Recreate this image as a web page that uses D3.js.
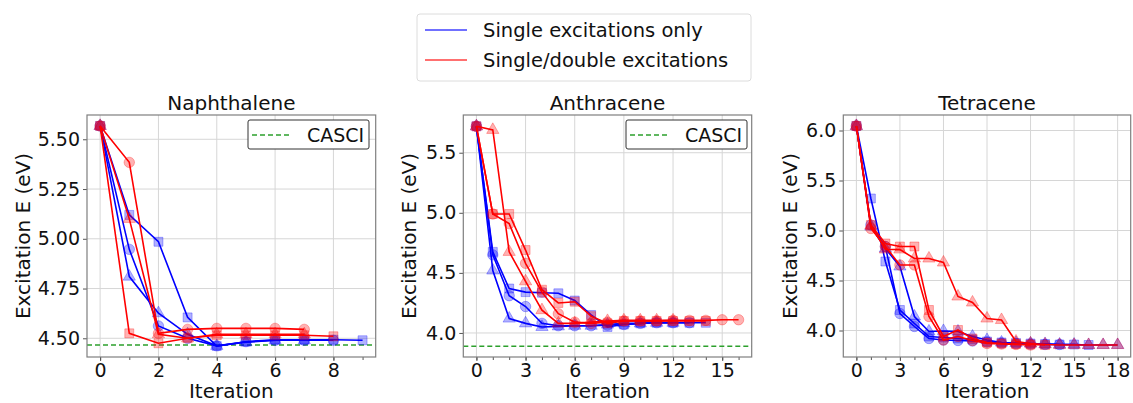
<!DOCTYPE html>
<html>
<head>
<meta charset="utf-8">
<script src="https://cdn.jsdelivr.net/npm/d3@7"></script>
<style>
  body { margin: 0; background: #fff; }
  text { font-family: "DejaVu Sans", sans-serif; fill: #111; }
</style>
</head>
<body>
<div id="chart"></div>
<script>
// ---- data ----
var titles = ["Naphthalene", "Anthracene", "Tetracene"];
var legendLabels = ["Single excitations only", "Single/double excitations"];
var markerShapes = ["square", "circle", "triangle"];

// Naphthalene
var naphSingle = [
  [5.567, 5.12, 4.985, 4.605, 4.461, 4.483, 4.493, 4.493, 4.493, 4.49],
  [5.567, 4.947, 4.562, 4.50, 4.462, 4.483, 4.49, 4.49, 4.49],
  [5.567, 4.81, 4.626, 4.52, 4.462, 4.48, 4.49, 4.49]
];
var naphDouble = [
  [5.567, 4.525, 4.475, 4.50, 4.515, 4.515, 4.515, 4.515, 4.51],
  [5.567, 5.384, 4.525, 4.545, 4.55, 4.55, 4.55, 4.545],
  [5.567, 5.10, 4.52, 4.50, 4.52, 4.52, 4.52, 4.52]
];
var naphCasci = 4.466;

// Anthracene
var anthSingle = [
  [5.72, 4.675, 4.37, 4.34, 4.335, 4.33, 4.27, 4.15, 4.05, 4.07, 4.08, 4.085, 4.085, 4.085, 4.085],
  [5.72, 4.65, 4.31, 4.22, 4.08, 4.06, 4.06, 4.06, 4.065, 4.07, 4.08, 4.085, 4.085, 4.085],
  [5.72, 4.52, 4.12, 4.08, 4.05, 4.055, 4.06, 4.06, 4.07, 4.08, 4.08, 4.085, 4.085]
];
var anthDouble = [
  [5.72, 4.99, 4.99, 4.69, 4.36, 4.25, 4.26, 4.14, 4.08, 4.1, 4.1, 4.1, 4.1, 4.1, 4.1],
  [5.72, 4.99, 4.91, 4.58, 4.34, 4.16, 4.09, 4.08, 4.09, 4.1, 4.1, 4.1, 4.105, 4.105, 4.105, 4.11, 4.11],
  [5.72, 5.69, 4.675, 4.43, 4.19, 4.08, 4.08, 4.09, 4.1, 4.105, 4.105, 4.105, 4.105]
];
var anthCasci = 3.89;

// Tetracene
var tetrSingle = [
  [6.045, 5.32, 4.69, 4.205, 4.07, 3.94, 3.93, 3.92, 3.91, 3.89, 3.88, 3.875, 3.87, 3.865, 3.86, 3.86, 3.855],
  [6.045, 5.055, 4.84, 4.17, 4.04, 3.92, 3.905, 3.90, 3.895, 3.885, 3.875, 3.87, 3.865, 3.86, 3.86],
  [6.045, 5.04, 4.82, 4.64, 4.14, 3.99, 3.995, 3.99, 3.94, 3.905, 3.88, 3.875, 3.87, 3.865, 3.86, 3.86, 3.855, 3.855, 3.855]
];
var tetrDouble = [
  [6.045, 5.055, 4.87, 4.84, 4.84, 4.205, 3.94, 4.005, 3.92, 3.88, 3.87, 3.865, 3.86, 3.855],
  [6.045, 5.02, 4.84, 4.655, 4.655, 4.14, 3.905, 3.94, 3.90, 3.87, 3.865, 3.86, 3.855],
  [6.045, 5.05, 4.81, 4.81, 4.72, 4.72, 4.68, 4.34, 4.28, 4.12, 4.105, 3.89, 3.87, 3.86, 3.855, 3.855, 3.855, 3.855, 3.855]
];

var naphXTicks = [0, 2, 4, 6, 8];
var naphYTicks = [4.50, 4.75, 5.00, 5.25, 5.50];
var anthXTicks = [0, 3, 6, 9, 12, 15];
var anthYTicks = [4.0, 4.5, 5.0, 5.5];
var tetrXTicks = [0, 3, 6, 9, 12, 15, 18];
var tetrYTicks = [4.0, 4.5, 5.0, 5.5, 6.0];

// ---- layout ----
var W = 1133, H = 403;
var plotTop = 115, plotBottom = 357;
var blue = "#0000ff", red = "#ff0000";

var panels = [
  { title: titles[0], left: 87, right: 375.7, xd: [-0.45, 9.45], yd: [4.406, 5.622],
    xt: naphXTicks, yt: naphYTicks, fmt: ".2f", xmax: 9, single: naphSingle, dbl: naphDouble,
    casci: naphCasci, labelX: 23 },
  { title: titles[1], left: 463.3, right: 751.7, xd: [-0.8, 16.8], yd: [3.80, 5.814],
    xt: anthXTicks, yt: anthYTicks, fmt: ".1f", xmax: 16, single: anthSingle, dbl: anthDouble,
    casci: anthCasci, labelX: 409 },
  { title: titles[2], left: 843.3, right: 1130.7, xd: [-0.9, 18.9], yd: [3.735, 6.155],
    xt: tetrXTicks, yt: tetrYTicks, fmt: ".1f", xmax: 18, single: tetrSingle, dbl: tetrDouble,
    casci: null, labelX: 790 }
];

var svg = d3.select("#chart").append("svg")
  .attr("width", W).attr("height", H);

panels.forEach(function (p, pi) {
  var x = d3.scaleLinear().domain(p.xd).range([p.left, p.right]);
  var y = d3.scaleLinear().domain(p.yd).range([plotBottom, plotTop]);
  var g = svg.append("g");

  // grid
  g.selectAll(".gx").data(p.xt).enter().append("line")
    .attr("x1", function (d) { return x(d); }).attr("x2", function (d) { return x(d); })
    .attr("y1", plotTop).attr("y2", plotBottom)
    .attr("stroke", "#d6d6d6").attr("stroke-width", 1);
  g.selectAll(".gy").data(p.yt).enter().append("line")
    .attr("y1", function (d) { return y(d); }).attr("y2", function (d) { return y(d); })
    .attr("x1", p.left).attr("x2", p.right)
    .attr("stroke", "#d6d6d6").attr("stroke-width", 1);

  // clip
  svg.append("clipPath").attr("id", "clip" + pi).append("rect")
    .attr("x", p.left).attr("y", plotTop).attr("width", p.right - p.left).attr("height", plotBottom - plotTop);
  var plot = g.append("g").attr("clip-path", "url(#clip" + pi + ")");

  if (p.casci !== null) {
    plot.append("line")
      .attr("x1", p.left).attr("x2", p.right)
      .attr("y1", y(p.casci)).attr("y2", y(p.casci))
      .attr("stroke", "#2ca02c").attr("stroke-width", 1.5).attr("stroke-dasharray", "5,3");
  }

  var line = d3.line().x(function (d, i) { return x(i); }).y(function (d) { return y(d); });

  function drawSeries(series, color) {
    series.forEach(function (vals, si) {
      plot.append("path").datum(vals)
        .attr("d", line)
        .attr("fill", "none").attr("stroke", color).attr("stroke-width", 1.6);
      var shape = markerShapes[si % markerShapes.length];
      var sym = shape === "square" ? d3.symbolSquare : shape === "circle" ? d3.symbolCircle : d3.symbolTriangle;
      var size = shape === "square" ? 80 : shape === "circle" ? 85 : 65;
      plot.selectAll(null).data(vals).enter().append("path")
        .attr("d", d3.symbol().type(sym).size(size))
        .attr("transform", function (d, i) { return "translate(" + x(i) + "," + y(d) + ")"; })
        .attr("fill", color).attr("fill-opacity", 0.3)
        .attr("stroke", color).attr("stroke-opacity", 0.3);
    });
  }
  drawSeries(p.single, blue);
  drawSeries(p.dbl, red);

  // axes
  var minor = d3.range(0, p.xmax + 1);
  var xAxis = g.append("g").attr("transform", "translate(0," + plotBottom + ")")
    .call(d3.axisBottom(x).tickValues(minor).tickSize(3).tickFormat(""));
  xAxis.select(".domain").remove();
  xAxis.selectAll("line").attr("stroke", "#555");
  var xMaj = g.append("g").attr("transform", "translate(0," + plotBottom + ")")
    .call(d3.axisBottom(x).tickValues(p.xt).tickSize(4).tickPadding(3).tickFormat(d3.format("d")));
  xMaj.select(".domain").remove();
  xMaj.selectAll("line").attr("stroke", "#555");
  xMaj.selectAll("text").style("font-size", "19px").style("font-family", "DejaVu Sans").attr("fill", "#111");

  var yAx = g.append("g").attr("transform", "translate(" + p.left + ",0)")
    .call(d3.axisLeft(y).tickValues(p.yt).tickSize(4).tickPadding(3).tickFormat(d3.format(p.fmt)));
  yAx.select(".domain").remove();
  yAx.selectAll("line").attr("stroke", "#555");
  yAx.selectAll("text").style("font-size", "19px").style("font-family", "DejaVu Sans").attr("fill", "#111");

  // frame
  g.append("rect").attr("x", p.left).attr("y", plotTop)
    .attr("width", p.right - p.left).attr("height", plotBottom - plotTop)
    .attr("fill", "none").attr("stroke", "#7f7f7f").attr("stroke-width", 1.2);

  // titles / labels
  g.append("text").attr("x", (p.left + p.right) / 2).attr("y", 110)
    .attr("text-anchor", "middle").style("font-size", "20px").text(p.title);
  g.append("text").attr("x", (p.left + p.right) / 2).attr("y", 398)
    .attr("text-anchor", "middle").style("font-size", "20px").text("Iteration");
  g.append("text")
    .attr("transform", "translate(" + (p.labelX + 7) + "," + ((plotTop + plotBottom) / 2) + ") rotate(-90)")
    .attr("text-anchor", "middle").style("font-size", "20px").text("Excitation E (eV)");

  // CASCI legend
  if (p.casci !== null) {
    var lx = pi === 0 ? 248 : 626, ly = 120;
    var lg = g.append("g").attr("transform", "translate(" + lx + "," + ly + ")");
    lg.append("rect").attr("width", 121).attr("height", 29).attr("rx", 2)
      .attr("fill", "#fff").attr("stroke", "#333").attr("stroke-width", 1);
    lg.append("line").attr("x1", 4).attr("x2", 44).attr("y1", 15).attr("y2", 15)
      .attr("stroke", "#2ca02c").attr("stroke-width", 1.5).attr("stroke-dasharray", "5,3");
    lg.append("text").attr("x", 59).attr("y", 22).style("font-size", "19px").text("CASCI");
  }
});

// main legend
var leg = svg.append("g").attr("transform", "translate(417,14)");
leg.append("rect").attr("width", 334).attr("height", 67).attr("rx", 3)
  .attr("fill", "#fff").attr("stroke", "#dcdcdc").attr("stroke-width", 1);
[blue, red].forEach(function (c, i) {
  leg.append("line").attr("x1", 8).attr("x2", 50)
    .attr("y1", 16 + i * 30).attr("y2", 16 + i * 30)
    .attr("stroke", c).attr("stroke-opacity", 0.75).attr("stroke-width", 1.6);
  leg.append("text").attr("x", 66).attr("y", 23 + i * 30)
    .style("font-size", "19.5px").text(legendLabels[i]);
});
</script>
</body>
</html>
